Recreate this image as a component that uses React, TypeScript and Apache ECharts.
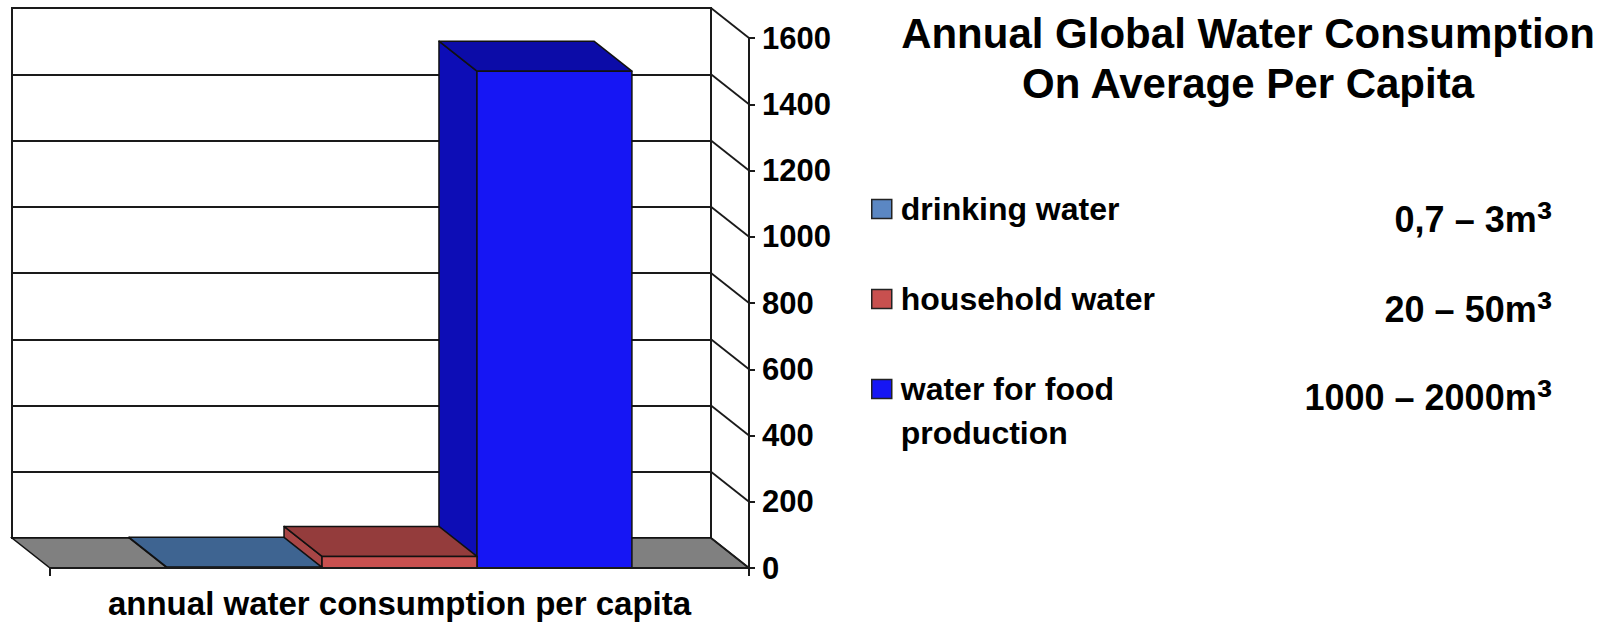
import { useEffect, useRef } from 'react';
import * as echarts from 'echarts';

// ---- data ----
const CATEGORIES = ['annual water consumption per capita'];
const SERIES_NAMES = ['drinking water', 'household water', 'water for food production'];
const LEGEND_LABELS = ['drinking water', 'household water', 'water for food\nproduction'];
const SERIES_VALUES = [2, 35, 1500];
const RANGE_LABELS = ['0,7 – 3m³', '20 – 50m³', '1000 – 2000m³'];
const Y_TICKS = [0, 200, 400, 600, 800, 1000, 1200, 1400, 1600];
const TITLE_LINES = ['Annual Global Water Consumption', 'On Average Per Capita'];

// ---- styles ----
const FRONT_COLORS = ['#5b87c3', '#c8504f', '#1616f4'];
const TOP_COLORS = ['#3e6491', '#943c3c', '#0c0ca8'];
const SIDE_COLORS = ['#466d9c', '#a84646', '#0d0db6'];
const FLOOR_COLOR = '#808080';
const LINE_COLOR = '#1a1a1a';
const FONT = "'Liberation Sans', Arial, sans-serif";

// depth of the pseudo-3D box (back plane is shifted up-left)
const DX = 38;
const DY = 30;
const BAR_CATEGORY_GAP = 0.335;

const W = 1612;
const H = 624;
const FRONT = { left: 50, right: W - 749, top: 38, bottom: H - 568 };
const BACK = {
  left: FRONT.left - DX,
  right: FRONT.right + DX,
  top: FRONT.top - DY,
  bottom: FRONT.bottom + DY,
};

const LEGEND_TOPS = [187, 277, 323];
const RANGE_Y = [219, 309, 397];

function barRenderer(i: number) {
  return (_params: any, api: any) => {
    const band = api.size([1, 0])[0];
    const [cx, y0] = api.coord([api.value(0), 0]);
    const yv = api.coord([api.value(0), api.value(1)])[1];
    const group = band * (1 - BAR_CATEGORY_GAP);
    const barW = group / SERIES_NAMES.length;
    const x0 = cx - group / 2 + i * barW;
    const x1 = x0 + barW;
    const edge = { stroke: '#111', lineWidth: 1.5, lineJoin: 'round' };
    return {
      type: 'group',
      children: [
        {
          type: 'polygon',
          shape: { points: [[x0, yv], [x0 - DX, yv - DY], [x0 - DX, y0 - DY], [x0, y0]] },
          style: { fill: SIDE_COLORS[i], ...edge },
        },
        {
          type: 'polygon',
          shape: { points: [[x0, yv], [x1, yv], [x1 - DX, yv - DY], [x0 - DX, yv - DY]] },
          style: { fill: TOP_COLORS[i], ...edge },
        },
        {
          type: 'rect',
          shape: { x: x0, y: yv, width: barW, height: Math.max(0, y0 - yv) },
          style: { fill: FRONT_COLORS[i], ...edge },
        },
      ],
    };
  };
}

// multi-line legend labels: an empty leading line keeps the swatch beside the first line
function legendText(label: string) {
  const lines = label.split('\n');
  return lines.length > 1 ? [' ', ...lines].join('\n') : label;
}

export default function App() {
  const ref = useRef<HTMLDivElement>(null);

  useEffect(() => {
    if (!ref.current) return;
    const chart = echarts.init(ref.current, null, { renderer: 'svg' });

    const barSeries = SERIES_NAMES.map((name, i) => ({
      name,
      type: 'custom',
      xAxisIndex: 0,
      yAxisIndex: 0,
      z: 5 - i,
      clip: false,
      itemStyle: { color: FRONT_COLORS[i] },
      renderItem: barRenderer(i),
      data: [[CATEGORIES[0], SERIES_VALUES[i]]],
      encode: { x: 0, y: 1 },
    }));

    chart.setOption({
      animation: false,
      backgroundColor: '#ffffff',
      textStyle: { fontFamily: FONT },
      title: {
        text: TITLE_LINES.join('\n'),
        left: 1248,
        top: 8,
        textAlign: 'center',
        padding: 0,
        textStyle: {
          fontFamily: FONT,
          fontSize: 42,
          fontWeight: 'bold',
          color: '#000',
          lineHeight: 50,
        },
      },
      legend: SERIES_NAMES.map((name, i) => ({
        data: [
          {
            name,
            icon: 'rect',
            itemStyle: { color: FRONT_COLORS[i], borderColor: '#222', borderWidth: 1.5 },
          },
        ],
        orient: 'vertical',
        left: 871,
        top: LEGEND_TOPS[i],
        padding: 0,
        itemWidth: 20,
        itemHeight: 19,
        selectedMode: false,
        formatter: () => legendText(LEGEND_LABELS[i]),
        textStyle: {
          fontFamily: FONT,
          fontSize: 32,
          fontWeight: 'bold',
          color: '#000',
          lineHeight: 44,
          padding: [0, 0, 0, 4],
        },
      })),
      grid: [
        { ...FRONT, show: false },
        { ...BACK, show: true, borderColor: LINE_COLOR, borderWidth: 2, backgroundColor: '#fff' },
      ],
      xAxis: [
        {
          gridIndex: 0,
          type: 'category',
          data: CATEGORIES,
          z: 6,
          axisLine: { show: true, lineStyle: { color: LINE_COLOR, width: 2 } },
          axisTick: { show: true, length: 8, lineStyle: { color: LINE_COLOR, width: 2 } },
          axisLabel: {
            margin: 19,
            fontFamily: FONT,
            fontSize: 33,
            fontWeight: 'bold',
            color: '#000',
            lineHeight: 33,
          },
          splitLine: { show: false },
        },
        { gridIndex: 1, type: 'category', data: CATEGORIES, show: false },
      ],
      yAxis: [
        {
          gridIndex: 0,
          type: 'value',
          position: 'right',
          min: Y_TICKS[0],
          max: Y_TICKS[Y_TICKS.length - 1],
          interval: Y_TICKS[1] - Y_TICKS[0],
          z: 6,
          axisLine: { show: true, lineStyle: { color: LINE_COLOR, width: 2 } },
          axisTick: { show: true, length: 6, lineStyle: { color: LINE_COLOR, width: 2 } },
          axisLabel: {
            margin: 13,
            fontFamily: FONT,
            fontSize: 31,
            fontWeight: 'bold',
            color: '#000',
            formatter: (v: number) => String(v),
          },
          splitLine: { show: false },
        },
        {
          gridIndex: 1,
          type: 'value',
          min: Y_TICKS[0],
          max: Y_TICKS[Y_TICKS.length - 1],
          interval: Y_TICKS[1] - Y_TICKS[0],
          axisLine: { show: false },
          axisTick: { show: false },
          axisLabel: { show: false },
          splitLine: { show: true, lineStyle: { color: LINE_COLOR, width: 2 } },
        },
      ],
      graphic: RANGE_LABELS.map((text, i) => ({
        type: 'text',
        x: 1552,
        y: RANGE_Y[i],
        style: {
          text: text.replace('³', '{sup|³}'),
          fill: '#000',
          font: `bold 36px ${FONT}`,
          align: 'right',
          verticalAlign: 'middle',
          rich: {
            sup: { fontFamily: FONT, fontWeight: 'bold', fontSize: 46, fill: '#000' },
          },
        },
      })),
      series: [
        // floor of the box
        {
          type: 'custom',
          name: 'floor',
          xAxisIndex: 0,
          yAxisIndex: 0,
          z: 1,
          clip: false,
          silent: true,
          renderItem: (params: any, api: any) => {
            const cs = params.coordSys;
            const y0 = api.coord([0, api.value(1)])[1];
            const xl = cs.x;
            const xr = cs.x + cs.width;
            return {
              type: 'polygon',
              shape: { points: [[xl, y0], [xr, y0], [xr - DX, y0 - DY], [xl - DX, y0 - DY]] },
              style: { fill: FLOOR_COLOR, stroke: '#111', lineWidth: 1.5 },
            };
          },
          data: [[CATEGORIES[0], Y_TICKS[0]]],
        },
        // depth connectors between the back wall and the front value axis
        {
          type: 'custom',
          name: 'connectors',
          xAxisIndex: 0,
          yAxisIndex: 0,
          z: 2,
          clip: false,
          silent: true,
          renderItem: (params: any, api: any) => {
            const cs = params.coordSys;
            const y = api.coord([0, api.value(1)])[1];
            const xr = cs.x + cs.width;
            return {
              type: 'line',
              shape: { x1: xr - DX, y1: y - DY, x2: xr, y2: y },
              style: { stroke: LINE_COLOR, lineWidth: 1.8 },
            };
          },
          data: Y_TICKS.map((v) => [CATEGORIES[0], v]),
        },
        ...barSeries,
      ],
    });

    return () => chart.dispose();
  }, []);

  return (
    <div
      ref={ref}
      style={{ position: 'absolute', left: 0, top: 0, width: W, height: H, background: '#fff' }}
    />
  );
}
